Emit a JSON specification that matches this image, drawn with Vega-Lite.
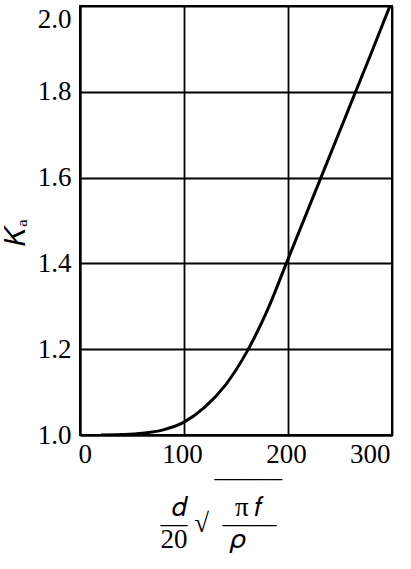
{
  "$schema": "https://vega.github.io/schema/vega-lite/v6.json",
  "autosize": {"type": "none"},
  "padding": {"left": 80, "top": 6, "right": 19, "bottom": 134},
  "width": 312,
  "height": 429,
  "background": "white",
  "config": {
    "view": {"stroke": "black", "strokeWidth": 2},
    "font": "Liberation Serif",
    "axis": {
      "labelFont": "Liberation Serif",
      "titleFont": "Liberation Serif",
      "labelColor": "black",
      "titleColor": "black",
      "labelFontSize": 27,
      "titleFontWeight": "normal",
      "gridColor": "black",
      "gridWidth": 1.8,
      "gridOpacity": 1,
      "domainColor": "black",
      "domainWidth": 2,
      "ticks": false
    }
  },
  "data": {
    "values": [
      {"x": 20, "k": 1.0},
      {"x": 40, "k": 1.001},
      {"x": 60, "k": 1.004},
      {"x": 80, "k": 1.012},
      {"x": 100, "k": 1.03},
      {"x": 120, "k": 1.065},
      {"x": 140, "k": 1.117},
      {"x": 160, "k": 1.192},
      {"x": 180, "k": 1.29},
      {"x": 200, "k": 1.41},
      {"x": 220, "k": 1.53},
      {"x": 240, "k": 1.65},
      {"x": 260, "k": 1.77},
      {"x": 280, "k": 1.89},
      {"x": 298, "k": 2.0}
    ]
  },
  "mark": {"type": "line", "color": "black", "strokeWidth": 3, "interpolate": "monotone", "clip": true},
  "encoding": {
    "x": {
      "field": "x",
      "type": "quantitative",
      "scale": {"domain": [0, 300], "nice": false, "zero": false},
      "axis": {
        "values": [0, 100, 200, 300],
        "labelPadding": 6,
        "labelOffset": -2,
        "title": ["\u200b\u2003\u2003¯¯¯¯¯", "\u200b\u2005\u2006𝑑\u2003\u2002\u2005π\u2009𝑓", "—\u2005√\u2002——", "20\u2003\u2002\u200a𝜌"],
        "titleFontSize": 27,
        "titleLineHeight": 16,
        "titleX": 80,
        "titleY": 64,
        "titleBaseline": "alphabetic",
        "titleAlign": "left",
        "titleAnchor": "start"
      }
    },
    "y": {
      "field": "k",
      "type": "quantitative",
      "scale": {"domain": [1, 2], "nice": false, "zero": false},
      "axis": {
        "values": [1.0, 1.2, 1.4, 1.6, 1.8, 2.0],
        "format": ".1f",
        "labelPadding": 9,
        "labelBaseline": {"condition": {"test": "datum.value == 2", "value": "top"}, "value": "middle"},
        "title": "𝐾ₐ",
        "titleFontSize": 28,
        "titleX": -50,
        "titleY": 226,
        "titleBaseline": "bottom"
      }
    }
  }
}
